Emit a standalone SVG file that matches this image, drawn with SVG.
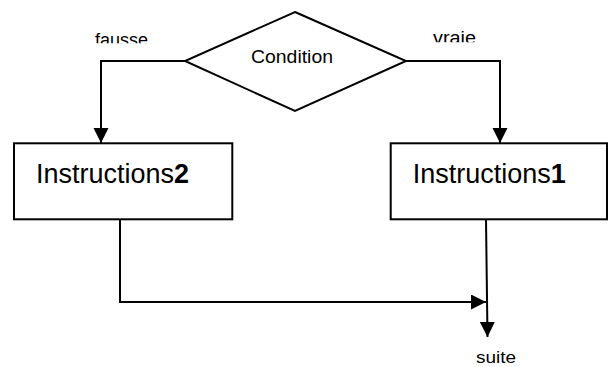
<svg xmlns="http://www.w3.org/2000/svg" width="608" height="367" viewBox="0 0 608 367">
  <style>
    .shape { fill: #ffffff; stroke: #000000; stroke-width: 2; }
    .wire { fill: none; stroke: #000000; stroke-width: 2; }
    .txt { font-family: "Liberation Sans", Arial, sans-serif; fill: #000000; }
    .lbl { font-size: 18px; }
    .big { font-size: 27px; }
  </style>
  <defs>
    <marker id="arrow" markerUnits="userSpaceOnUse" markerWidth="16" markerHeight="16" refX="15" refY="7.5" orient="auto">
      <path d="M0,0 L15,7.5 L0,15 Z" fill="#000000"/>
    </marker>
    <clipPath id="clipFalse"><rect x="80" y="20" width="90" height="23.3"/></clipPath>
    <clipPath id="clipTrue"><rect x="420" y="20" width="80" height="22.3"/></clipPath>
  </defs>

  <!-- connectors -->
  <g id="connectors">
    <path class="wire" d="M185,61 H101 V143" marker-end="url(#arrow)"/>
    <path class="wire" d="M406,61 H500 V143" marker-end="url(#arrow)"/>
    <path class="wire" d="M120,219 V302 H486" marker-end="url(#arrow)"/>
    <path class="wire" d="M486,219 L487.5,337" marker-end="url(#arrow)"/>
  </g>

  <!-- decision -->
  <g id="condition">
    <polygon class="shape" points="295,12 406,61 295,111 185,61"/>
    <text class="txt" x="251" y="63.3" font-size="19" textLength="82" lengthAdjust="spacingAndGlyphs">Condition</text>
  </g>

  <!-- branch labels -->
  <g id="label-fausse" clip-path="url(#clipFalse)">
    <text class="txt lbl" x="95" y="45.5" textLength="53" lengthAdjust="spacingAndGlyphs">fausse</text>
  </g>
  <g id="label-vraie" clip-path="url(#clipTrue)">
    <text class="txt lbl" x="433" y="44.3" textLength="43" lengthAdjust="spacingAndGlyphs">vraie</text>
  </g>

  <!-- process boxes -->
  <g id="instructions2">
    <rect class="shape" x="14" y="143.3" width="218.3" height="76"/>
    <text class="txt big" x="36" y="182.7">Instructions<tspan font-weight="bold">2</tspan></text>
  </g>
  <g id="instructions1">
    <rect class="shape" x="390.7" y="143.3" width="216.3" height="76"/>
    <text class="txt big" x="412.7" y="182.7">Instructions<tspan font-weight="bold">1</tspan></text>
  </g>

  <!-- exit label -->
  <g id="suite">
    <text class="txt" x="476" y="363" font-size="16" textLength="40" lengthAdjust="spacingAndGlyphs">suite</text>
  </g>
</svg>
